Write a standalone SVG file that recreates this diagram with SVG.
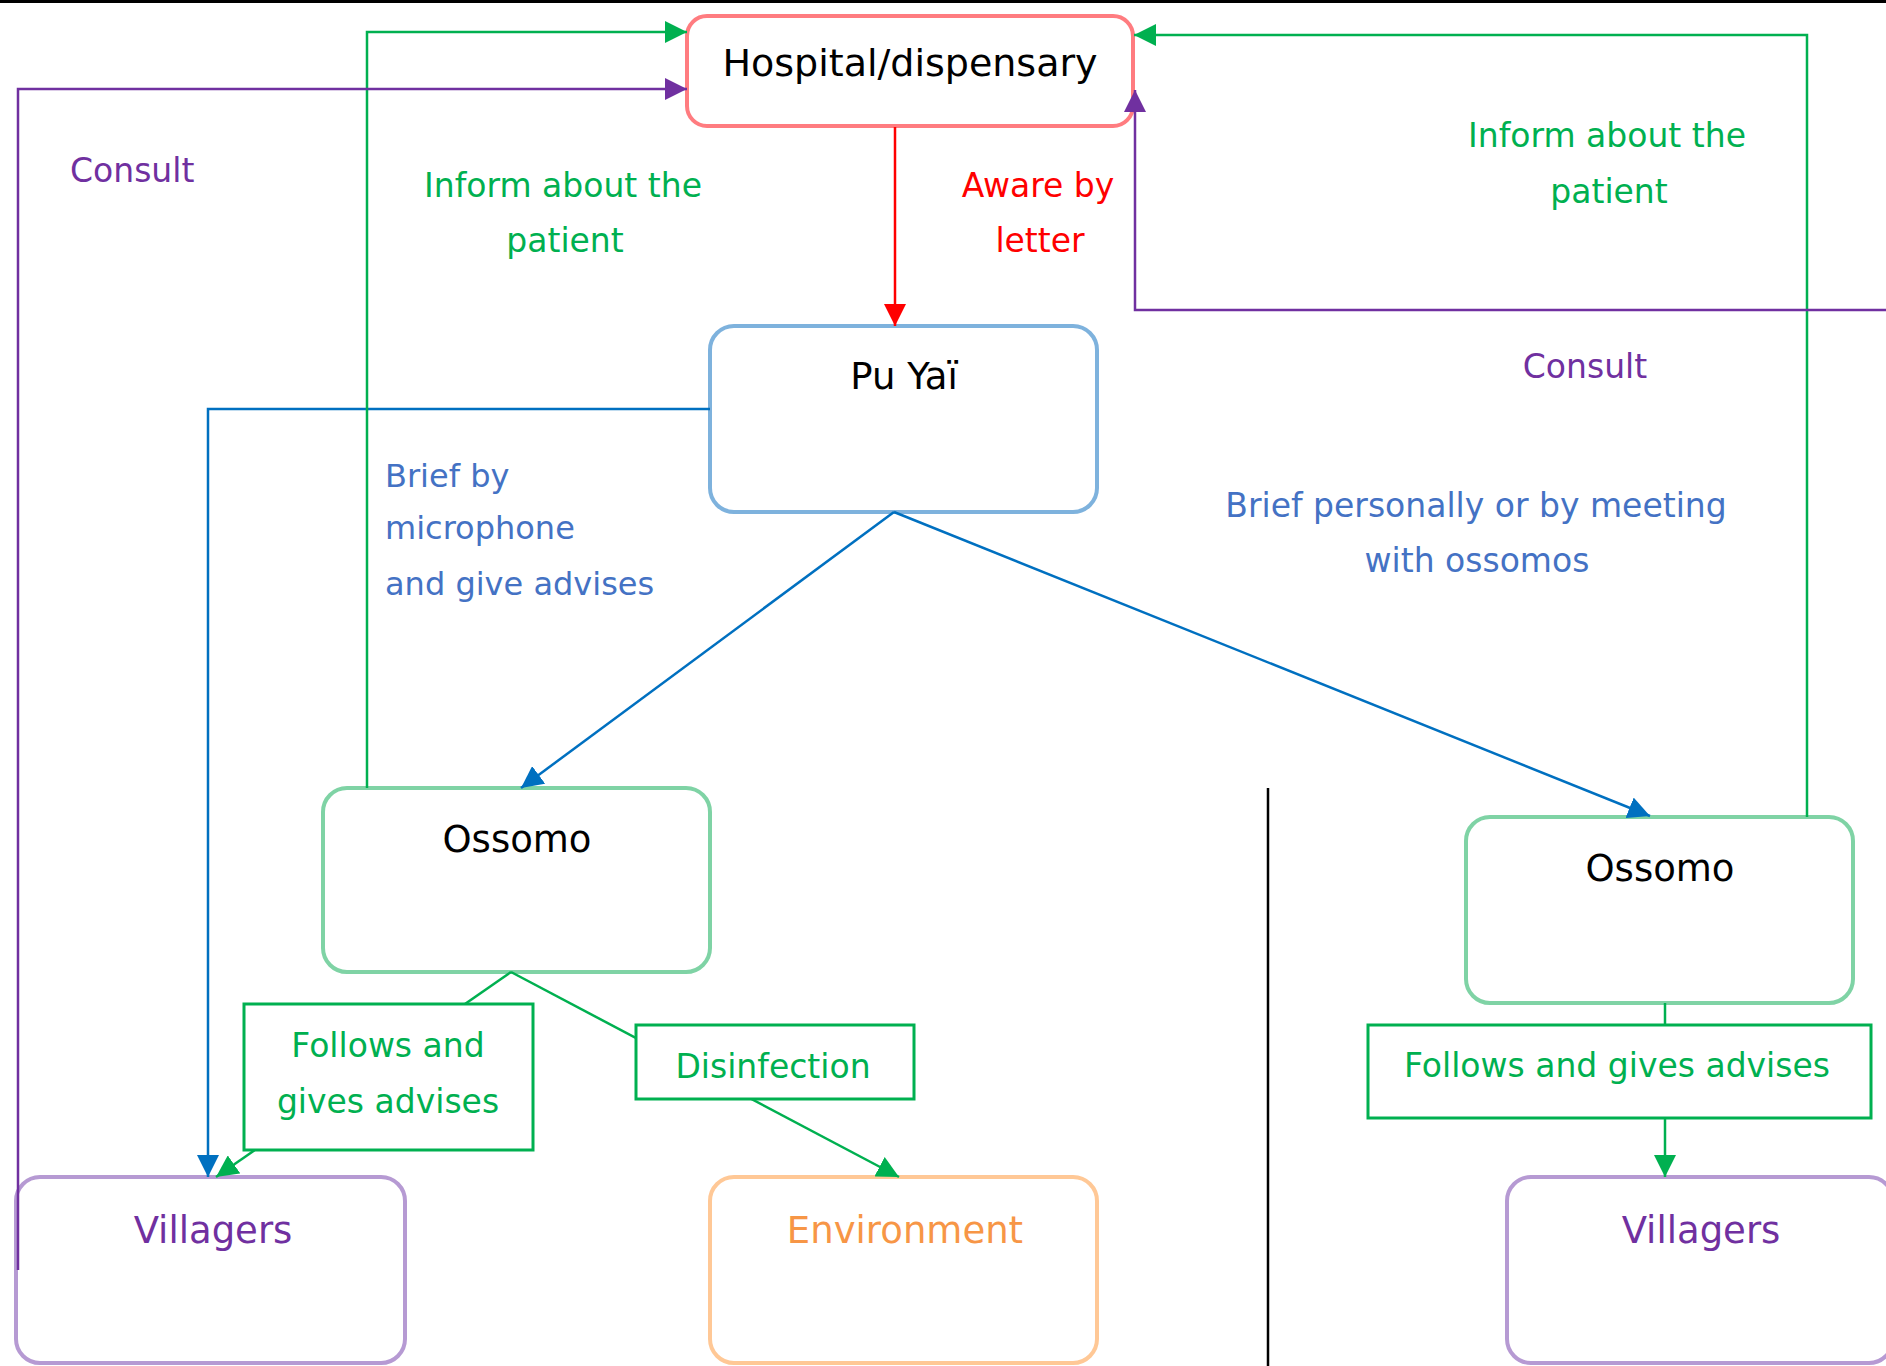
<svg xmlns="http://www.w3.org/2000/svg" width="1886" height="1366" viewBox="0 0 1886 1366">
<defs>
<style>
.node{fill:#FFFFFF;stroke-width:4}
.nt{font-family:"DejaVu Sans",sans-serif;font-size:37px;text-anchor:middle}
.lt{font-family:"DejaVu Sans",sans-serif;font-size:33px}
.lbox{fill:#FFFFFF;stroke:#00B050;stroke-width:3}
.c{fill:none;stroke-width:2.5}
</style>
<marker id="aR" markerUnits="userSpaceOnUse" markerWidth="22" markerHeight="22" refX="22" refY="11" orient="auto"><path d="M0,0 L22,11 L0,22 Z" fill="#FF0000"/></marker>
<marker id="aB" markerUnits="userSpaceOnUse" markerWidth="22" markerHeight="22" refX="22" refY="11" orient="auto"><path d="M0,0 L22,11 L0,22 Z" fill="#0070C0"/></marker>
<marker id="aG" markerUnits="userSpaceOnUse" markerWidth="22" markerHeight="22" refX="22" refY="11" orient="auto"><path d="M0,0 L22,11 L0,22 Z" fill="#00B050"/></marker>
<marker id="aP" markerUnits="userSpaceOnUse" markerWidth="22" markerHeight="22" refX="22" refY="11" orient="auto"><path d="M0,0 L22,11 L0,22 Z" fill="#7030A0"/></marker>
</defs>
<rect x="0" y="0" width="1886" height="1366" fill="#FFFFFF"/>
<rect x="0" y="0" width="1886" height="3" fill="#000000"/>
<line x1="1268" y1="788" x2="1268" y2="1366" stroke="#000000" stroke-width="2.5"/>

<g id="hospital"><rect class="node" x="687" y="16" width="446" height="110" rx="20" stroke="#FF7C80"/><text class="nt" x="910" y="76" fill="#000000" style="font-size:38px">Hospital/dispensary</text></g>
<g id="puyai"><rect class="node" x="710" y="326" width="387" height="186" rx="24" stroke="#7EB2DD"/><text class="nt" x="904" y="389" fill="#000000">Pu Yaï</text></g>
<g id="ossomo-left"><rect class="node" x="323" y="788" width="387" height="184" rx="24" stroke="#7FD3A5"/><text class="nt" x="517" y="852" fill="#000000">Ossomo</text></g>
<g id="ossomo-right"><rect class="node" x="1466" y="817" width="387" height="186" rx="24" stroke="#7FD3A5"/><text class="nt" x="1660" y="881" fill="#000000">Ossomo</text></g>
<g id="villagers-left"><rect class="node" x="16" y="1177" width="389" height="186" rx="24" stroke="#B69AD3"/><text class="nt" x="213" y="1243" fill="#7030A0">Villagers</text></g>
<g id="environment"><rect class="node" x="710" y="1177" width="387" height="186" rx="24" stroke="#FFC896"/><text class="nt" x="905" y="1243" fill="#F79646">Environment</text></g>
<g id="villagers-right"><rect class="node" x="1507" y="1177" width="386" height="186" rx="24" stroke="#B69AD3"/><text class="nt" x="1701" y="1243" fill="#7030A0">Villagers</text></g>

<g id="connectors">
<line class="c" x1="895" y1="127" x2="895" y2="326" stroke="#FF0000" marker-end="url(#aR)"/>
<line class="c" x1="894" y1="512" x2="521" y2="788" stroke="#0070C0" marker-end="url(#aB)"/>
<line class="c" x1="894" y1="512" x2="1650" y2="816" stroke="#0070C0" marker-end="url(#aB)"/>
<polyline class="c" points="710,409 208,409 208,1177" stroke="#0070C0" marker-end="url(#aB)"/>
<polyline class="c" points="367,788 367,32 687,32" stroke="#00B050" marker-end="url(#aG)"/>
<polyline class="c" points="18,1270 18,89 687,89" stroke="#7030A0" marker-end="url(#aP)"/>
<polyline class="c" points="1807,817 1807,35 1134,35" stroke="#00B050" marker-end="url(#aG)"/>
<polyline class="c" points="1886,310 1135,310 1135,90" stroke="#7030A0" marker-end="url(#aP)"/>
<line class="c" x1="511" y1="972" x2="216" y2="1177" stroke="#00B050" marker-end="url(#aG)"/>
<line class="c" x1="511" y1="972" x2="899" y2="1177" stroke="#00B050" marker-end="url(#aG)"/>
<line class="c" x1="1665" y1="1003" x2="1665" y2="1177" stroke="#00B050" marker-end="url(#aG)"/>
</g>

<g id="label-follows-left"><rect class="lbox" x="244" y="1004" width="289" height="146"/><text class="lt" x="388" y="1057" fill="#00B050" text-anchor="middle">Follows and</text><text class="lt" x="388" y="1113" fill="#00B050" text-anchor="middle">gives advises</text></g>
<g id="label-disinfection"><rect class="lbox" x="636" y="1025" width="278" height="74"/><text class="lt" x="773" y="1078" fill="#00B050" text-anchor="middle">Disinfection</text></g>
<g id="label-follows-right"><rect class="lbox" x="1368" y="1025" width="503" height="93"/><text class="lt" x="1617" y="1077" fill="#00B050" text-anchor="middle">Follows and gives advises</text></g>

<g id="labels">
<text class="lt" x="70" y="182" fill="#7030A0">Consult</text>
<text class="lt" x="563" y="197" fill="#00B050" text-anchor="middle">Inform about the</text>
<text class="lt" x="565" y="252" fill="#00B050" text-anchor="middle">patient</text>
<text class="lt" x="1038" y="197" fill="#FF0000" text-anchor="middle">Aware by</text>
<text class="lt" x="1040" y="252" fill="#FF0000" text-anchor="middle">letter</text>
<text class="lt" x="1607" y="147" fill="#00B050" text-anchor="middle">Inform about the</text>
<text class="lt" x="1609" y="203" fill="#00B050" text-anchor="middle">patient</text>
<text class="lt" x="1585" y="378" fill="#7030A0" text-anchor="middle">Consult</text>
<text class="lt" x="385" y="487" fill="#4472C4" style="font-size:32px">Brief by</text>
<text class="lt" x="385" y="539" fill="#4472C4" style="font-size:32px">microphone</text>
<text class="lt" x="385" y="595" fill="#4472C4" style="font-size:32px">and give advises</text>
<text class="lt" x="1476" y="517" fill="#4472C4" text-anchor="middle">Brief personally or by meeting</text>
<text class="lt" x="1477" y="572" fill="#4472C4" text-anchor="middle">with ossomos</text>
</g>
</svg>
